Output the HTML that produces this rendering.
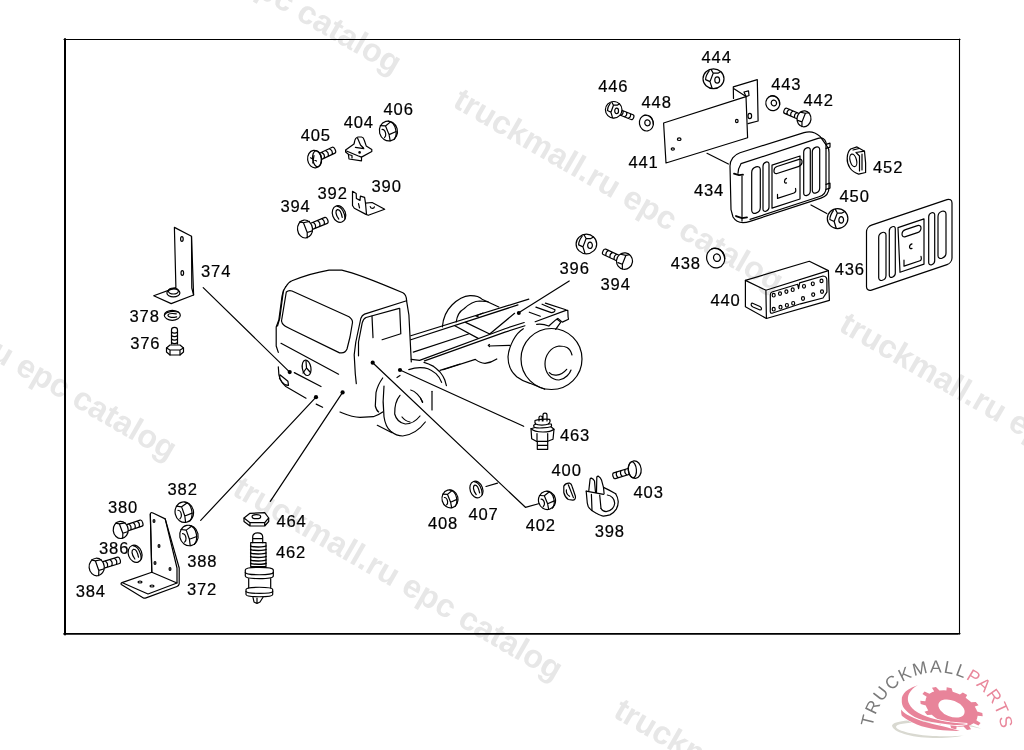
<!DOCTYPE html>
<html><head><meta charset="utf-8"><style>
html,body{margin:0;padding:0;background:#fff;width:1024px;height:750px;overflow:hidden}
svg{position:absolute;left:0;top:0;will-change:transform}
</style></head><body>
<svg width="1024" height="750" viewBox="0 0 1024 750">
<g font-family="'Liberation Sans', sans-serif" font-weight="bold" fill="#e7e7e7">
<text transform="translate(69.6,-112.1) rotate(30)" font-size="32.5">truckmall.ru epc catalog</text>
<text transform="translate(-155.1,274.1) rotate(30)" font-size="32.5">truckmall.ru epc catalog</text>
<text transform="translate(-375.8,658.3) rotate(30)" font-size="32.5">truckmall.ru epc catalog</text>
<text transform="translate(672.3,-282.2) rotate(30)" font-size="32.5">truckmall.ru epc catalog</text>
<text transform="translate(451.6,106.0) rotate(30)" font-size="32.5">truckmall.ru epc catalog</text>
<text transform="translate(230.9,494.2) rotate(30)" font-size="32.5">truckmall.ru epc catalog</text>
<text transform="translate(1058.3,-58.1) rotate(30)" font-size="32.5">truckmall.ru epc catalog</text>
<text transform="translate(837.6,330.1) rotate(30)" font-size="32.5">truckmall.ru epc catalog</text>
<text transform="translate(611.9,716.3) rotate(30)" font-size="32.5">truckmall.ru epc catalog</text>
</g>
<g fill="none" stroke="#000" stroke-width="1.2" stroke-linejoin="round" stroke-linecap="round">
<line x1="64" y1="39.5" x2="960" y2="39.5" stroke-width="1.2"/>
<line x1="65" y1="39" x2="65" y2="634.5" stroke-width="2"/>
<line x1="959.5" y1="39" x2="959.5" y2="634" stroke-width="1.1"/>
<line x1="64" y1="633.9" x2="958" y2="633.9" stroke-width="1.6"/>
<line x1="958" y1="633.6" x2="960" y2="633.6" stroke-width="1.1"/>
<g transform="translate(314.6 159.1) rotate(-25.0)"><path d="M3.9,-3.2 L21.0,-3.2 C23.2,-3.2 23.2,3.2 21.0,3.2 L3.9,3.2 M9.1,-3.2 C10.7,-1.3 10.7,1.3 9.1,3.2 M13.4,-3.2 C15.0,-1.3 15.0,1.3 13.4,3.2 M17.8,-3.2 C19.4,-1.3 19.4,1.3 17.8,3.2"/></g>
<g transform="translate(314.6 159.1) rotate(-7.5)">
<ellipse cx="0" cy="0" rx="7" ry="8.8" fill="#fff"/>
<ellipse cx="2.4" cy="0" rx="4.3" ry="8.1"/>
</g>
<path d="M310.5,157.8 L316.5,161 M314,155.5 L312.8,163" fill="none"/>
<path d="M345.6,150.1 L354,144 L354.5,142 C354.8,139.5 356,137.5 358,137 L361.5,137 C363,137.3 363.8,138.5 364.2,140 L366.2,145.9 L371.8,149.6 L371.8,151.5 L361.5,157.1 L361.5,160.8 L349,159 L348.4,154.3 L345.6,152 Z" fill="none"/>
<path d="M346.5,151 L357.8,155.7 L361.5,157.1 M355.4,147.3 L363.8,148.7 M357.5,138 L360.5,145 L363.5,148 M348.5,154.5 L352,155.5 L352,158" fill="none"/>
<circle cx="359.6" cy="152.4" r="1.3" fill="#000" stroke="none"/>
<g transform="translate(388.4 131.0) rotate(-15) scale(0.978 0.971)">
<ellipse cx="0" cy="0" rx="9.2" ry="10.3" fill="#fff" vector-effect="non-scaling-stroke"/>
<path vector-effect="non-scaling-stroke" d="M2.5,-9.9 C6.5,-8.2 7.8,-3.5 7.6,0.5 C7.4,4.5 6,8 3.5,9.8"/>
<path vector-effect="non-scaling-stroke" d="M-6.5,-7.5 L-1.5,-5.8 L4.5,-8.5 M-1.5,-5.8 L-0.3,3.8 L-0.8,10.2 M-0.3,3.8 L7.5,2.6"/>
<path vector-effect="non-scaling-stroke" d="M-5.8,-3.2 C-3.8,-2.6 -3.2,0 -3.4,2 C-3.6,3.8 -4.4,5 -5.6,5.6"/>
</g>
<g transform="translate(305.0 229.0) rotate(-22.2)"><path d="M4.1,-3.2 L22.8,-3.2 C25.0,-3.2 25.0,3.2 22.8,3.2 L4.1,3.2 M9.8,-3.2 C11.4,-1.3 11.4,1.3 9.8,3.2 M14.5,-3.2 C16.1,-1.3 16.1,1.3 14.5,3.2 M19.3,-3.2 C20.9,-1.3 20.9,1.3 19.3,3.2"/></g>
<g transform="translate(305.0 229.0) rotate(-6.7)">
<ellipse cx="0" cy="0" rx="7.5" ry="9" fill="#fff"/>
<path d="M-4.6,-7.7 L-0.8,-6.4 L5.3,-7.0 M-0.8,-6.4 L1.8,3.7 L1.2,9.0 M1.8,3.7 L7.0,2.7"/>
</g>
<g transform="translate(339.0 214.0) rotate(-20)">
<ellipse cx="0" cy="0" rx="6.5" ry="8.5" fill="#fff"/>
<path d="M0.7,-8.1 C5.2,-5.9 5.9,1.7 3.9,6.8"/>
<path d="M-1.9,4.7 C-3.6,-0.9 -2.3,-4.7 0.0,-4.7 C2.3,-4.2 2.6,0.0 1.9,4.2"/>
</g>
<path d="M352.5,191.3 L356.2,193.4 L356.4,198.5 L360.0,200.4 L360.4,196.2 L364.6,197.4 L365.5,203.2 L372.1,202.5 L384.7,209.3 L368.3,215.3 L366.0,214.4 L354.3,208.3 L352.5,205.5 Z" fill="none"/>
<path d="M365.5,203.2 L366.5,214.4 M358.5,203.7 L359.5,207.9 M370.2,206.5 C370.5,209 374,209 374.4,206.8" fill="none"/>
<path d="M174.4,227.4 L191.5,236.3 L193.6,295.0 L171.2,303.6 L153.7,295.7 L175.9,287.6 Z" fill="none"/>
<path d="M191.5,236.3 L191.8,288 L193.6,295" fill="none"/>
<ellipse cx="181.9" cy="239" rx="1.3" ry="2.3" fill="none"/>
<ellipse cx="182.3" cy="273" rx="1.3" ry="2.3" fill="none"/>
<ellipse cx="173.4" cy="292.9" rx="6.5" ry="4" fill="none"/>
<ellipse cx="173.4" cy="291" rx="5" ry="3" fill="none"/>
<g transform="translate(172.3 315.3) rotate(-90)">
<ellipse cx="0" cy="0" rx="5" ry="8" fill="#fff"/>
<path d="M0.5,-7.6 C4.0,-5.6 4.5,1.6 3.0,6.4"/>
<path d="M-1.5,4.4 C-2.8,-0.8 -1.8,-4.4 0.0,-4.4 C1.8,-4.0 2.0,0.0 1.5,4.0"/>
</g>
<path d="M171.5,344 L171.5,330 C171.5,326.5 177.5,326.5 177.5,330 L177.5,344" fill="none"/>
<path d="M171.5,332 C173,333.5 176,333.5 177.5,332" fill="none"/>
<path d="M171.5,335.5 C173,337.0 176,337.0 177.5,335.5" fill="none"/>
<path d="M171.5,339 C173,340.5 176,340.5 177.5,339" fill="none"/>
<path d="M171.5,342.5 C173,344.0 176,344.0 177.5,342.5" fill="none"/>
<path d="M166.5,348 L170,345 L180,345 L183.5,348 L183.5,352 L180,355 L170,355 L166.5,352 Z" fill="none"/>
<path d="M166.5,348 L170,350 L180,350 L183.5,348 M170,350 L170,355 M180,350 L180,355" fill="none"/>
<line x1="203.2" y1="287.6" x2="289.7" y2="372.1"/>
<path d="M285.8,286.7 C288,283 290,281.5 292,280.8 C300,277.5 315,272.5 329,270.1 L341.8,270.1 C355,273 380,283 402.9,292.8 C405,294 406.5,296 406.6,300.8" fill="none"/>
<path d="M285.8,286.7 C283.5,290 282,295 281.5,300 L278.9,319.7 L276.2,327 L276.2,346 L278.3,352.4" fill="none"/>
<path d="M278.3,366.8 L278.9,374.8 C280,380 283,384 285.8,386.5 L306,398.2" fill="none"/>
<path d="M286.3,292 C288,290.5 290,290.3 292,291 L349,316.8 C351.5,318.5 352.6,320 352.5,322.5 L350,337 L347,349 C346,351.5 344.5,352.8 341.5,352.8 L339.6,352.9 L292.7,330 C284,326 282,324.5 281.5,321 Z" fill="none"/>
<path d="M283.5,290 L279.8,318 L277.5,326" fill="none"/>
<line x1="281" y1="343.3" x2="338.6" y2="374.2"/>
<line x1="294.3" y1="372.6" x2="321" y2="386.5"/>
<line x1="316.2" y1="404.1" x2="322.6" y2="407.3"/>
<ellipse cx="306.6" cy="367.8" rx="4.3" ry="7.8" transform="rotate(-10 306.6 367.8)" fill="none"/>
<path d="M306,361 L306.5,368 L303,373 M306.5,368 L310,372" fill="none"/>
<path d="M279.9,374.8 L287.9,381.2 L288.5,385.4 C286,385.5 284,384.5 282,382 L279.5,378.5 Z" fill="none"/>
<path d="M406.6,300.8 L364.5,314.1 C362.5,315 361.5,316.5 360.8,318.5 L355.8,342 L354.2,354.8 L355.3,374 L356.3,383.6" fill="none"/>
<path d="M399.2,308.3 L366,317.5 C364.5,318.2 363,320 362.2,322.8 L358.5,342 L358.5,355.8" fill="none"/>
<path d="M372,316.2 L373,337.6" fill="none"/>
<path d="M399.7,308.3 L400.8,333.8 L382.1,339.7" fill="none"/>
<path d="M406.6,300.8 L408.9,315 L411.3,361.9" fill="none"/>
<path d="M340,412 C345,414 352,417.3 360,417.3 L373.3,416.7 C377,415.5 380,414 382.7,412" fill="none"/>
<line x1="377.3" y1="425.3" x2="392" y2="432.7"/>
<circle cx="289.7" cy="372.1" r="2.1" fill="#000" stroke="none"/>
<circle cx="316" cy="397.2" r="2.1" fill="#000" stroke="none"/>
<circle cx="342.6" cy="392.4" r="2.1" fill="#000" stroke="none"/>
<circle cx="372.7" cy="362.7" r="2.1" fill="#000" stroke="none"/>
<circle cx="400" cy="370" r="2.1" fill="#000" stroke="none"/>
<path d="M410.8,335.7 L528.8,299.1" fill="none"/>
<path d="M565.9,310.4 L567.8,310.4 L568.1,317 L568.5,319.2 L562.3,322.1 L557.9,318.4 L555.7,319.9 L549.1,325.8" fill="none"/>
<path d="M557.1,319.2 L560.8,322.1 L555.7,329.4" fill="none"/>
<path d="M410.8,339.8 L518,304.9" fill="none"/>
<path d="M413.3,352.1 L468.5,334" fill="none"/>
<path d="M411.3,359.4 L419.6,360.4 L505,328.7 L524.2,322.5 M535.2,321.7 L565.9,310.4" fill="none"/>
<path d="M424.5,360.9 L505,332.1 L524.9,325.8" fill="none"/>
<path d="M454.8,325.8 L478.2,338.4 M465.6,322.4 L489.7,334 L514.6,313.3 M483,313 L476,316 L478.5,317" fill="none"/>
<circle cx="518.8" cy="313" r="2" fill="#000" stroke="none"/>
<path d="M535.9,307.1 L551.3,312.6 C553.5,312.5 555,311 555,309.7 L542.1,304.2 M545.4,303.1 L565.9,309.7 M529.3,312.2 L540.3,316.2" fill="none"/>
<path d="M443.1,369.7 L475.3,359.4 C478,361.5 482,363.3 485,363.3 C489,363 493,361.5 496.8,359" fill="none"/>
<path d="M489.5,344.5 L488.3,345.3 L489.5,346.5 M489,346 L509.6,345.4" fill="none"/>
<path d="M440,370.4 L460,364" fill="none"/>
<path d="M442.4,326.8 C443,318 447,310 452,305 C458,299 464,296 470,295.6 C475,295.5 480,297 482,299.2 L498.8,307" fill="none"/>
<path d="M456.2,322 C457,316 460,311 464,308.8 C469,304 475,301 479.6,301 L488,301.6" fill="none"/>
<ellipse cx="551.5" cy="359" rx="30.5" ry="30.5" fill="none"/>
<path d="M523.3,328.7 C516,333 509,345 508,356.7 C508,365 511,372 516.7,376.7 C521,380 525,382 530,383.3 L544.7,389.3" fill="none"/>
<path d="M536.7,324.4 C540,324 545,324.5 548.7,326" fill="none"/>
<path d="M572,355 C570,347 565,346 559,346 C551,347 545,355 545,364 C545,373 551,380 559,380 C566,379 570,373 571,370" fill="none"/>
<path d="M549.3,372.7 C552,376 560,377 566.7,369.3" fill="none"/>
<path d="M382.7,378 C379,383 377,388 376,392.7 L375.3,406 C376,409 377,411 378.7,412" fill="none"/>
<path d="M384,386 C383,395 383,408 384,416.7 C385,424 387,428 390.7,431.3 C394,434 398,436 402.7,436 C412,435 420,429 425.3,422" fill="none"/>
<path d="M432,391.3 L432,410" fill="none"/>
<path d="M408.8,369.6 C412,368.5 416,367.6 420,367.6 C424,367.6 426,368 428,368.8 C432,370.5 434,372 436,373.6 C438.5,376 440.5,379 441.6,382.4" fill="none"/>
<path d="M424,362.4 C428,363.5 431,365 433.6,366.4 C436,368 438,370 440,372 C442,374.5 443.8,377 444.8,380 L446.4,385.6" fill="none"/>
<path d="M400,395.3 C396,400 394.5,407 394.7,414 C396,419 400,423 405.3,424 C411,424 416,421 420,416" fill="none"/>
<path d="M410.7,390 C415,391 420,396 422.7,402" fill="none"/>
<path d="M402,417 C404,419.5 407,421.5 410,422 M397,377.5 L400,375.5 M420.5,398 L422.5,402.5" fill="none"/>
<line x1="316" y1="397.2" x2="200.7" y2="520.4"/>
<line x1="342.6" y1="392.4" x2="270.3" y2="501.3"/>
<path d="M372.7,362.7 L525.4,507.3 L539.4,503.5" fill="none"/>
<line x1="400" y1="370" x2="523.7" y2="426.3"/>
<line x1="518.7" y1="312.7" x2="569.2" y2="281"/>
<line x1="486" y1="486.5" x2="497.5" y2="483.2"/>
<g transform="translate(586.4 244.0) rotate(0) scale(0.981 0.990)">
<ellipse cx="0" cy="0" rx="10.5" ry="9.9" fill="#fff" vector-effect="non-scaling-stroke"/>
<path vector-effect="non-scaling-stroke" d="M-4.3,-7.9 C-6.5,-5 -7.9,-2 -7.9,0.9 L-3.5,2.9 L-1.5,9.3 M-0.3,-5.5 L-3.5,2.9 M-2.3,-9.1 L-0.3,-5.5 L4.5,-5.5 L7.3,-7.1"/>
<ellipse vector-effect="non-scaling-stroke" cx="3.7" cy="1.3" rx="2.4" ry="3.2"/>
</g>
<g transform="translate(624.5 261.1) rotate(-155.2)"><path d="M4.4,-3.0 L22.1,-3.0 C24.3,-3.0 24.3,3.0 22.1,3.0 L4.4,3.0 M9.8,-3.0 C11.4,-1.2 11.4,1.2 9.8,3.0 M14.3,-3.0 C15.9,-1.2 15.9,1.2 14.3,3.0 M18.8,-3.0 C20.4,-1.2 20.4,1.2 18.8,3.0"/></g>
<g transform="translate(624.5 261.1) rotate(7.4) scale(-1 1)">
<ellipse cx="0" cy="0" rx="8" ry="8.2" fill="#fff"/>
<path d="M-4.2,-7.0 L-0.7,-5.9 L4.8,-6.3 M-0.7,-5.9 L1.7,3.4 L1.1,8.2 M1.7,3.4 L6.3,2.4"/>
</g>
<g transform="translate(713.5 78.7) rotate(0) scale(1.000 1.000)">
<ellipse cx="0" cy="0" rx="10.5" ry="9.9" fill="#fff" vector-effect="non-scaling-stroke"/>
<path vector-effect="non-scaling-stroke" d="M-4.3,-7.9 C-6.5,-5 -7.9,-2 -7.9,0.9 L-3.5,2.9 L-1.5,9.3 M-0.3,-5.5 L-3.5,2.9 M-2.3,-9.1 L-0.3,-5.5 L4.5,-5.5 L7.3,-7.1"/>
<ellipse vector-effect="non-scaling-stroke" cx="3.7" cy="1.3" rx="2.4" ry="3.2"/>
</g>
<g transform="translate(613.7 109.8) rotate(21.8)"><path d="M3.6,-2.6 L19.8,-2.6 C22.0,-2.6 22.0,2.6 19.8,2.6 L3.6,2.6 M8.6,-2.6 C10.2,-1.0 10.2,1.0 8.6,2.6 M12.6,-2.6 C14.2,-1.0 14.2,1.0 12.6,2.6 M16.7,-2.6 C18.3,-1.0 18.3,1.0 16.7,2.6"/></g>
<g transform="translate(613.7 109.8) rotate(6.5)">
<ellipse cx="0" cy="0" rx="6.5" ry="8" fill="#fff"/>
</g>
<g transform="translate(613.7 109.8) rotate(0) scale(0.790 0.838)">
<ellipse cx="0" cy="0" rx="10.5" ry="9.9" fill="#fff" vector-effect="non-scaling-stroke"/>
<path vector-effect="non-scaling-stroke" d="M-4.3,-7.9 C-6.5,-5 -7.9,-2 -7.9,0.9 L-3.5,2.9 L-1.5,9.3 M-0.3,-5.5 L-3.5,2.9 M-2.3,-9.1 L-0.3,-5.5 L4.5,-5.5 L7.3,-7.1"/>
<ellipse vector-effect="non-scaling-stroke" cx="3.7" cy="1.3" rx="2.4" ry="3.2"/>
</g>
<g transform="translate(646.4 123.0) rotate(-10)">
<ellipse cx="0" cy="0" rx="7" ry="8" fill="#fff"/>
<path d="M-1.1,-8.0 C5.2,-7.6 7.4,-2.4 6.6,2.4"/>
<ellipse cx="1.1" cy="0" rx="2.7" ry="3.0"/>
</g>
<path d="M663.6,123.0 L746.0,96.6 L747.6,137.7 L666.0,163.0 Z" fill="none"/>
<ellipse cx="679.2" cy="139.2" rx="1.8" ry="1.3" fill="none"/>
<ellipse cx="672.8" cy="149" rx="1.6" ry="1.2" fill="none"/>
<ellipse cx="736.8" cy="121" rx="1.3" ry="1.6" fill="none"/>
<path d="M733.5,98.5 L733.3,86.9 L757.3,79.6 L758.1,121 L748,123.6" fill="none"/>
<path d="M734,88.8 L746,96.6" fill="none"/>
<path d="M744.0,92.0 L748.5,90.8 L749.0,95.5 L746.0,96.6 Z" fill="none"/>
<ellipse cx="749.8" cy="116" rx="1.8" ry="2.6" fill="none"/>
<line x1="707" y1="153.3" x2="728.4" y2="164"/>
<g transform="translate(772.8 103.2) rotate(-10)">
<ellipse cx="0" cy="0" rx="7" ry="7.5" fill="#fff"/>
<path d="M-1.1,-7.5 C5.2,-7.1 7.4,-2.2 6.6,2.2"/>
<ellipse cx="1.1" cy="0" rx="2.7" ry="2.9"/>
</g>
<g transform="translate(804.0 118.8) rotate(-156.4)"><path d="M3.9,-2.8 L20.0,-2.8 C22.2,-2.8 22.2,2.8 20.0,2.8 L3.9,2.8 M8.8,-2.8 C10.4,-1.1 10.4,1.1 8.8,2.8 M12.9,-2.8 C14.5,-1.1 14.5,1.1 12.9,2.8 M16.9,-2.8 C18.5,-1.1 18.5,1.1 16.9,2.8"/></g>
<g transform="translate(804.0 118.8) rotate(7.1) scale(-1 1)">
<ellipse cx="0" cy="0" rx="7" ry="8" fill="#fff"/>
<path d="M-4.1,-6.8 L-0.7,-5.7 L4.7,-6.2 M-0.7,-5.7 L1.6,3.3 L1.1,8.0 M1.6,3.3 L6.2,2.4"/>
</g>
<g transform="translate(730 170) skewY(-18.2)">
<path vector-effect="non-scaling-stroke" d="M0,-4 C0,-10 4,-14 10,-14 L74,-13 C80,-13 86,-9 90,-4 L97,8 C98.5,10 99,12 99,15 L99,50 C99,55 96,58 91,58 L20,58 C12,58 6,54 3,48 L1,40 Z"/>
<path vector-effect="non-scaling-stroke" d="M11,-2.7 C9,0 8,3 8,6 M11,-2.7 L88,-2.7 C92,-2.7 95,0 96,4 L96,50 C96,54 93,56 89,56 L20,56 M12,10 L12,55"/>
<path vector-effect="non-scaling-stroke" d="M4,5 L9,8 L13,9 M6,48 L12,52 L17,53" stroke-width="1.8"/>
<rect x="21.7" y="5.4" width="8.600000000000001" height="46.300000000000004" rx="4.300000000000001" ry="4.300000000000001" vector-effect="non-scaling-stroke"/>
<rect x="33" y="3.9" width="6" height="49.2" rx="3.0" ry="3.0" vector-effect="non-scaling-stroke"/>
<path vector-effect="non-scaling-stroke" d="M42,9 L70,9 L70,52 L42,52 Z"/>
<rect x="44" y="12" width="28" height="7" rx="3" ry="3" vector-effect="non-scaling-stroke"/>
<path vector-effect="non-scaling-stroke" d="M56.5,27 C55,27 54.5,28.5 54.5,29.5 C54.5,30.5 55,31.5 56.5,31.5"/>
<path vector-effect="non-scaling-stroke" d="M47.5,40 L47.5,44 L64,44 C66,44 66,42 65.5,40"/>
<rect x="73.7" y="3.2" width="6.599999999999994" height="47.5" rx="3.299999999999997" ry="3.299999999999997" vector-effect="non-scaling-stroke"/>
<rect x="82.3" y="5.4" width="7.400000000000006" height="45.800000000000004" rx="3.700000000000003" ry="3.700000000000003" vector-effect="non-scaling-stroke"/>
<path vector-effect="non-scaling-stroke" d="M96,6 L100,6 L100,10 L96,10 M96,46 L100,46 L100,51 L96,51"/>
</g>
<path d="M850.7,149 L857,146.9 L864.5,151.2 L865.6,162.9 L865.6,172.5 L858.7,174.1 C855,173 852,171 850,168 C848,165 847,161 847.2,158 C847.3,154 848.5,151 850.7,149 Z" fill="none"/>
<ellipse cx="853.3" cy="160.3" rx="3.2" ry="6.4" transform="rotate(-15 853.3 160.3)" fill="none"/>
<path d="M853,150 L859,148.5 M856,152.5 L864.5,151.2 M856,152.5 L859.5,156 L859.5,171 M862,154 L862,170" fill="none"/>
<g transform="translate(837.6 218.6) rotate(0) scale(0.981 1.010)">
<ellipse cx="0" cy="0" rx="10.5" ry="9.9" fill="#fff" vector-effect="non-scaling-stroke"/>
<path vector-effect="non-scaling-stroke" d="M-4.3,-7.9 C-6.5,-5 -7.9,-2 -7.9,0.9 L-3.5,2.9 L-1.5,9.3 M-0.3,-5.5 L-3.5,2.9 M-2.3,-9.1 L-0.3,-5.5 L4.5,-5.5 L7.3,-7.1"/>
<ellipse vector-effect="non-scaling-stroke" cx="3.7" cy="1.3" rx="2.4" ry="3.2"/>
</g>
<line x1="811" y1="205" x2="826.8" y2="213.5"/>
<g transform="translate(715.7 258.0) rotate(-15)">
<ellipse cx="0" cy="0" rx="9" ry="10" fill="#fff"/>
<path d="M-1.3,-10.0 C6.8,-9.5 9.5,-3.0 8.5,3.0"/>
<ellipse cx="1.3" cy="0" rx="3.4" ry="3.8"/>
</g>
<path d="M745.4,280.4 L809.3,261.3 L828.4,270.6 L829.4,300.4 L766.4,318.5 L745.4,306.8 Z" fill="none"/>
<path d="M745.4,280.4 L765.9,290.2 L828.4,270.6 M765.9,290.2 L766.4,318.5" fill="none"/>
<path d="M752,303 L760,306.5 C762,307.5 762,310 760,310 L753,307 C751,306 750.5,304 752,303 Z" fill="none"/>
<path d="M772,292 L797.6,284.3 L798.6,288.7 L799.6,282.8 L823,276 C826,276 827,278 826.9,281 L826.9,292.1 L823,298 L800.5,303.8 L772,313.2 C770.5,313.5 770,312 770.3,309.7 L770.3,295 C770.3,293.5 771,292.3 772,292 Z" fill="none"/>
<ellipse cx="773.7" cy="295.2" rx="1.5" ry="1.8" fill="none"/>
<ellipse cx="780" cy="293.6" rx="1.5" ry="1.8" fill="none"/>
<ellipse cx="786.4" cy="291.6" rx="1.5" ry="1.8" fill="none"/>
<ellipse cx="792.7" cy="289.7" rx="1.5" ry="1.8" fill="none"/>
<ellipse cx="804" cy="286.3" rx="1.5" ry="1.8" fill="none"/>
<ellipse cx="812.8" cy="283.8" rx="1.5" ry="1.8" fill="none"/>
<ellipse cx="821.5" cy="280.9" rx="1.5" ry="1.8" fill="none"/>
<ellipse cx="773.7" cy="309.2" rx="1.5" ry="1.8" fill="none"/>
<ellipse cx="780.5" cy="307.2" rx="1.5" ry="1.8" fill="none"/>
<ellipse cx="786.9" cy="305.3" rx="1.5" ry="1.8" fill="none"/>
<ellipse cx="793.2" cy="303.3" rx="1.5" ry="1.8" fill="none"/>
<ellipse cx="803" cy="298.5" rx="1.5" ry="1.8" fill="none"/>
<ellipse cx="813.2" cy="294.6" rx="1.5" ry="1.8" fill="none"/>
<ellipse cx="822" cy="291.6" rx="1.5" ry="1.8" fill="none"/>
<g transform="translate(866 235) skewY(-18.7)">
<rect x="0.5" y="-8" width="85.5" height="65" rx="5" ry="5" vector-effect="non-scaling-stroke"/>
<rect x="12.7" y="3" width="7.300000000000001" height="47.8" rx="3.6500000000000004" ry="3.6500000000000004" vector-effect="non-scaling-stroke"/>
<rect x="23.3" y="0.6" width="6.0" height="50.6" rx="3.0" ry="3.0" vector-effect="non-scaling-stroke"/>
<path vector-effect="non-scaling-stroke" d="M32,3.5 L58,3.5 L58,48.8 L34,48.8 Z"/>
<rect x="36" y="8" width="19" height="7" rx="3.5" ry="3.5" vector-effect="non-scaling-stroke"/>
<path vector-effect="non-scaling-stroke" d="M46,24.5 C44.5,24.5 43.5,25.5 43.5,26.8 C43.5,28 44.5,29 46,29"/>
<path vector-effect="non-scaling-stroke" d="M38,38 L38,44 L54,44 C55.5,44 55.5,42 55,40"/>
<rect x="62.7" y="0" width="6.0" height="52" rx="3.0" ry="3.0" vector-effect="non-scaling-stroke"/>
<rect x="72" y="2" width="8" height="47" rx="4.0" ry="4.0" vector-effect="non-scaling-stroke"/>
</g>
<path d="M539,421 L539,417.5 C539,415.5 542.3,415.5 542.3,417.5 L542.3,421 M543,421 L543,415 C543,412.5 547,412.5 547,415 L547,421" fill="none"/>
<path d="M535,420.5 C537,419.5 545,418.8 549.7,419.3 C550.5,421 549.5,423 548.3,424 C546,425.3 538,425.5 535.7,424 C534.8,423 534.8,421.5 535,420.5 Z" fill="none"/>
<path d="M535.7,424 L533.7,425.3 C533.5,426.5 534,427.3 535,427.5 C537,428.3 547,428.2 551,426.7 C551.8,426 551.6,424.8 551.3,424 L548.3,424" fill="none"/>
<path d="M535,427.5 L531,428.7 L531.7,438.7 L536.3,441.3 L547.7,441.3 L553,439.3 L554,429.3 L551,426.7" fill="none"/>
<path d="M531,428.7 C533,431 538,432 543,432 C548,432 552,431 554,429.3" fill="none"/>
<path d="M537,433.5 L537,441.3 M547.7,433.5 L547.7,441.3" fill="none"/>
<path d="M537.3,441.5 L537.3,449.3 L547.7,449.3 L547.7,441.5 M537.3,445.3 L547.7,445.3" fill="none"/>
<path d="M150.3,514 C150.5,512.5 151.5,512.5 153,513 L165.2,518.9 L179.2,568 L179.2,583.9 C179,585 178.5,586 177,586.5 L146,597.9 C145,598.3 144,598.3 143,597.7 L121.3,584.5 C120.8,584 121,583 122,582.6 L151.8,572.3 Z" fill="none"/>
<path d="M150.3,514 L151.8,572.3 M165.2,518.9 L177,568 L177,583 L148,594 L123,583" fill="none"/>
<path d="M151.8,572.3 L177,583" fill="none"/>
<ellipse cx="154" cy="521" rx="0.9" ry="1.3" fill="none"/>
<ellipse cx="159" cy="546" rx="0.9" ry="1.3" fill="none"/>
<ellipse cx="155" cy="563" rx="0.9" ry="1.3" fill="none"/>
<ellipse cx="170" cy="569" rx="0.9" ry="1.3" fill="none"/>
<ellipse cx="140" cy="582" rx="2" ry="1" fill="none"/>
<ellipse cx="152" cy="586" rx="2" ry="1" fill="none"/>
<g transform="translate(184.3 512.2) rotate(-12) scale(1.000 1.000)">
<ellipse cx="0" cy="0" rx="9.2" ry="10.3" fill="#fff" vector-effect="non-scaling-stroke"/>
<path vector-effect="non-scaling-stroke" d="M2.5,-9.9 C6.5,-8.2 7.8,-3.5 7.6,0.5 C7.4,4.5 6,8 3.5,9.8"/>
<path vector-effect="non-scaling-stroke" d="M-6.5,-7.5 L-1.5,-5.8 L4.5,-8.5 M-1.5,-5.8 L-0.3,3.8 L-0.8,10.2 M-0.3,3.8 L7.5,2.6"/>
<path vector-effect="non-scaling-stroke" d="M-5.8,-3.2 C-3.8,-2.6 -3.2,0 -3.4,2 C-3.6,3.8 -4.4,5 -5.6,5.6"/>
</g>
<g transform="translate(188.9 535.5) rotate(-12) scale(1.000 1.000)">
<ellipse cx="0" cy="0" rx="9.2" ry="10.3" fill="#fff" vector-effect="non-scaling-stroke"/>
<path vector-effect="non-scaling-stroke" d="M2.5,-9.9 C6.5,-8.2 7.8,-3.5 7.6,0.5 C7.4,4.5 6,8 3.5,9.8"/>
<path vector-effect="non-scaling-stroke" d="M-6.5,-7.5 L-1.5,-5.8 L4.5,-8.5 M-1.5,-5.8 L-0.3,3.8 L-0.8,10.2 M-0.3,3.8 L7.5,2.6"/>
<path vector-effect="non-scaling-stroke" d="M-5.8,-3.2 C-3.8,-2.6 -3.2,0 -3.4,2 C-3.6,3.8 -4.4,5 -5.6,5.6"/>
</g>
<g transform="translate(120.7 529.9) rotate(-18.4)"><path d="M4.1,-3.2 L21.5,-3.2 C23.7,-3.2 23.7,3.2 21.5,3.2 L4.1,3.2 M9.4,-3.2 C11.0,-1.3 11.0,1.3 9.4,3.2 M13.8,-3.2 C15.4,-1.3 15.4,1.3 13.8,3.2 M18.2,-3.2 C19.8,-1.3 19.8,1.3 18.2,3.2"/></g>
<g transform="translate(120.7 529.9) rotate(-5.5)">
<ellipse cx="0" cy="0" rx="7.5" ry="8.6" fill="#fff"/>
<path d="M-4.4,-7.3 L-0.8,-6.2 L5.1,-6.6 M-0.8,-6.2 L1.8,3.5 L1.2,8.6 M1.8,3.5 L6.6,2.5"/>
</g>
<g transform="translate(135.1 553.8) rotate(-20)">
<ellipse cx="0" cy="0" rx="6.7" ry="8.8" fill="#fff"/>
<path d="M0.7,-8.4 C5.4,-6.2 6.0,1.8 4.0,7.0"/>
<path d="M-2.0,4.8 C-3.7,-0.9 -2.3,-4.8 0.0,-4.8 C2.3,-4.4 2.7,0.0 2.0,4.4"/>
</g>
<g transform="translate(96.7 567.0) rotate(-17.0)"><path d="M4.2,-3.3 L22.9,-3.3 C25.1,-3.3 25.1,3.3 22.9,3.3 L4.2,3.3 M9.9,-3.3 C11.5,-1.3 11.5,1.3 9.9,3.3 M14.7,-3.3 C16.3,-1.3 16.3,1.3 14.7,3.3 M19.5,-3.3 C21.1,-1.3 21.1,1.3 19.5,3.3"/></g>
<g transform="translate(96.7 567.0) rotate(-5.1)">
<ellipse cx="0" cy="0" rx="7.6" ry="8.8" fill="#fff"/>
<path d="M-4.5,-7.5 L-0.8,-6.3 L5.2,-6.8 M-0.8,-6.3 L1.8,3.6 L1.2,8.8 M1.8,3.6 L6.8,2.6"/>
</g>
<path d="M244,518 L250,513.3 L264.7,512.7 L268.7,518 L264.7,522.7 L250,522.7 Z" fill="none"/>
<path d="M244,518 L244,521.5 L250,526 L264.7,526 L268.7,521.5 L268.7,518 M250,522.7 L250,526 M264.7,522.7 L264.7,526" fill="none"/>
<ellipse cx="256.4" cy="516.7" rx="4.3" ry="2" fill="none"/>
<path d="M252.7,542.7 L252.7,537 C252.7,531.5 262.7,531.5 262.7,537 L262.7,542.7 M252.7,538.7 L262.7,538.7" fill="none"/>
<path d="M250.7,542.7 L266,542.7 L266,566.7 L250.7,566.7 Z" fill="none"/>
<path d="M250.7,546 C252,547.2 264.5,547.2 266,546" fill="none" stroke-width="1.5"/>
<path d="M250.7,549.5 C252,550.7 264.5,550.7 266,549.5" fill="none" stroke-width="1.5"/>
<path d="M250.7,553 C252,554.2 264.5,554.2 266,553" fill="none" stroke-width="1.5"/>
<path d="M250.7,556.5 C252,557.7 264.5,557.7 266,556.5" fill="none" stroke-width="1.5"/>
<path d="M250.7,560 C252,561.2 264.5,561.2 266,560" fill="none" stroke-width="1.5"/>
<path d="M250.7,563.3 C252,564.5 264.5,564.5 266,563.3" fill="none" stroke-width="1.5"/>
<path d="M245.3,570 C245.3,566.5 273.3,566.5 273.3,570 L273.3,576 C273.3,579.5 245.3,579.5 245.3,576 Z" fill="none"/>
<path d="M245.3,572.5 C246,575.5 272.5,575.5 273.3,572.5" fill="none"/>
<path d="M248.7,578.5 L248.7,588 M270.7,578.5 L270.7,588" fill="none"/>
<path d="M246,589.5 C246,586.5 272.7,586.5 272.7,589.5 L272.7,594.5 C272.7,597.5 246,597.5 246,594.5 Z" fill="none"/>
<path d="M246,591.5 C247,594 271.7,594 272.7,591.5" fill="none"/>
<path d="M253,597.3 L254,602 L257,603.5 L260,602 L263,597.3 M257,598 L257,603.5" fill="none"/>
<g transform="translate(450.0 498.9) rotate(-15) scale(0.870 0.874)">
<ellipse cx="0" cy="0" rx="9.2" ry="10.3" fill="#fff" vector-effect="non-scaling-stroke"/>
<path vector-effect="non-scaling-stroke" d="M2.5,-9.9 C6.5,-8.2 7.8,-3.5 7.6,0.5 C7.4,4.5 6,8 3.5,9.8"/>
<path vector-effect="non-scaling-stroke" d="M-6.5,-7.5 L-1.5,-5.8 L4.5,-8.5 M-1.5,-5.8 L-0.3,3.8 L-0.8,10.2 M-0.3,3.8 L7.5,2.6"/>
<path vector-effect="non-scaling-stroke" d="M-5.8,-3.2 C-3.8,-2.6 -3.2,0 -3.4,2 C-3.6,3.8 -4.4,5 -5.6,5.6"/>
</g>
<g transform="translate(476.4 489.5) rotate(-20)">
<ellipse cx="0" cy="0" rx="6.3" ry="8.5" fill="#fff"/>
<path d="M0.6,-8.1 C5.0,-5.9 5.7,1.7 3.8,6.8"/>
<path d="M-1.9,4.7 C-3.5,-0.9 -2.2,-4.7 0.0,-4.7 C2.2,-4.2 2.5,0.0 1.9,4.2"/>
</g>
<g transform="translate(547.0 500.4) rotate(-15) scale(0.924 0.893)">
<ellipse cx="0" cy="0" rx="9.2" ry="10.3" fill="#fff" vector-effect="non-scaling-stroke"/>
<path vector-effect="non-scaling-stroke" d="M2.5,-9.9 C6.5,-8.2 7.8,-3.5 7.6,0.5 C7.4,4.5 6,8 3.5,9.8"/>
<path vector-effect="non-scaling-stroke" d="M-6.5,-7.5 L-1.5,-5.8 L4.5,-8.5 M-1.5,-5.8 L-0.3,3.8 L-0.8,10.2 M-0.3,3.8 L7.5,2.6"/>
<path vector-effect="non-scaling-stroke" d="M-5.8,-3.2 C-3.8,-2.6 -3.2,0 -3.4,2 C-3.6,3.8 -4.4,5 -5.6,5.6"/>
</g>
<path d="M563.8,486.1 C565,484 567.5,483 569.6,483.2 C571,483.5 571.8,485 572.2,486.7 L575.4,496.3 C575.8,498.5 574.5,500.3 572.8,500.2 L568.3,499.5 C566,498 564.5,495.5 563.8,492.5 Z" fill="none"/>
<path d="M568.3,484.8 L573.4,497.6 M566.4,489.9 C566,492.5 567.5,495 569.6,496.3" fill="none"/>
<path d="M588.8,490.6 L590.1,479 C590.5,478 591,478 591.4,478.1 C593,478.8 594,480 594.5,481 L595.5,492.5" fill="none"/>
<path d="M596.5,492.5 L596.8,477.1 C597.2,476.4 597.8,476.1 598.4,476.2 C600,477 601,478.5 601.6,480.3 L603.5,487.4 L604.1,493.8" fill="none"/>
<path d="M586.2,491.2 L603.5,494.4 M603.5,487.4 L608.6,489.9 L615.7,493.8" fill="none"/>
<path d="M586.2,491.2 L586.9,498.9 C587,502 587.5,504.5 588.2,506.5 C590,509.5 592.5,511.5 595.8,513 C598.5,514.5 601,516 603.5,516.1 C606,516 608,515.5 609.9,514.9 C612.5,513.5 614.8,511.5 616.3,509.1 C617.7,506.5 618.3,504 618.2,501.4 C618,498.5 617,496 615.7,493.8" fill="none"/>
<path d="M607.3,495 C609.5,495.3 611.3,496.3 612.5,497.6 C614,499.3 614.7,501.3 614.7,503.3 C614.5,505.5 613.7,507.3 612.5,508.5 C610.7,510.3 608.5,511.5 606.1,511.7 C603.7,511.5 602,510.3 601,508.5" fill="none"/>
<path d="M599.7,495 L601,508.5 M591.4,494.4 L592,510.4" fill="none"/>
<g transform="translate(634.7 469.6) rotate(162.9)"><path d="M3.6,-3.0 L21.1,-3.0 C23.3,-3.0 23.3,3.0 21.1,3.0 L3.6,3.0 M8.9,-3.0 C10.5,-1.2 10.5,1.2 8.9,3.0 M13.4,-3.0 C15.0,-1.2 15.0,1.2 13.4,3.0 M17.8,-3.0 C19.4,-1.2 19.4,1.2 17.8,3.0"/></g>
<g transform="translate(634.7 469.6) rotate(-5.1) scale(-1 1)">
<ellipse cx="0" cy="0" rx="6.5" ry="8.8" fill="#fff"/>
<ellipse cx="2.3" cy="0" rx="4.0" ry="8.1"/>
</g>
</g>
<g font-family="'Liberation Sans', sans-serif" font-size="16.6" letter-spacing="0.8" fill="#000" stroke="#000" stroke-width="0.2">
<text x="300.7" y="141.2">405</text>
<text x="343.8" y="128.3">404</text>
<text x="383.6" y="114.9">406</text>
<text x="280.5" y="211.9">394</text>
<text x="317.6" y="199.4">392</text>
<text x="371.6" y="192.2">390</text>
<text x="201.1" y="276.9">374</text>
<text x="129.6" y="322.3">378</text>
<text x="130.3" y="348.9">376</text>
<text x="559.6" y="274.0">396</text>
<text x="600.6" y="290.1">394</text>
<text x="701.6" y="62.6">444</text>
<text x="598.2" y="92.3">446</text>
<text x="641.6" y="107.6">448</text>
<text x="628.4" y="167.7">441</text>
<text x="771.2" y="89.9">443</text>
<text x="803.6" y="106.2">442</text>
<text x="873.1" y="172.7">452</text>
<text x="839.6" y="201.5">450</text>
<text x="693.9" y="195.5">434</text>
<text x="670.7" y="269.3">438</text>
<text x="834.8" y="275.1">436</text>
<text x="710.5" y="305.8">440</text>
<text x="560.0" y="441.1">463</text>
<text x="167.6" y="495.0">382</text>
<text x="107.9" y="513.3">380</text>
<text x="99.1" y="553.8">386</text>
<text x="187.2" y="566.9">388</text>
<text x="75.8" y="596.7">384</text>
<text x="186.9" y="595.4">372</text>
<text x="276.4" y="527.0">464</text>
<text x="275.9" y="558.2">462</text>
<text x="551.6" y="476.0">400</text>
<text x="633.6" y="498.4">403</text>
<text x="468.4" y="519.9">407</text>
<text x="428.0" y="528.9">408</text>
<text x="525.7" y="530.6">402</text>
<text x="594.8" y="536.9">398</text>
</g>
<defs><path id="logoarc" d="M872.5,727.3 A65,65 0 0 1 1001.7,738.6"/></defs>
<g>
<path d="M892,725.5 C893,722 905,720 922,720.1 C945,720.5 970,724 981.3,728.7 C970,726 945,722.5 922,722.5 C905,722.5 896,724 896,727 C897,731 915,735 933,736 C950,736.5 960,736 965.2,735.2 C955,737.5 945,738 933,738 C910,737.5 893,732 892,725.5 Z" fill="#d9d9d1"/>
<g transform="translate(951.5 708.5) rotate(22) scale(2.75 1.62)"><path d="M10.00,0.00 L9.96,0.94 L11.79,1.62 L11.39,3.44 L9.44,3.29 L8.66,5.00 L8.15,5.79 L9.40,7.29 L8.15,8.67 L6.53,7.57 L5.00,8.66 L4.16,9.09 L4.50,11.02 L2.72,11.59 L1.87,9.82 L0.00,10.00 L-0.94,9.96 L-1.62,11.79 L-3.44,11.39 L-3.29,9.44 L-5.00,8.66 L-5.79,8.15 L-7.29,9.40 L-8.67,8.15 L-7.57,6.53 L-8.66,5.00 L-9.09,4.16 L-11.02,4.50 L-11.59,2.72 L-9.82,1.87 L-10.00,0.00 L-9.96,-0.94 L-11.79,-1.62 L-11.39,-3.44 L-9.44,-3.29 L-8.66,-5.00 L-8.15,-5.79 L-9.40,-7.29 L-8.15,-8.67 L-6.53,-7.57 L-5.00,-8.66 L-4.16,-9.09 L-4.50,-11.02 L-2.72,-11.59 L-1.87,-9.82 L-0.00,-10.00 L0.94,-9.96 L1.62,-11.79 L3.44,-11.39 L3.29,-9.44 L5.00,-8.66 L5.79,-8.15 L7.29,-9.40 L8.67,-8.15 L7.57,-6.53 L8.66,-5.00 L9.09,-4.16 L11.02,-4.50 L11.59,-2.72 L9.82,-1.87 Z M5.0,0 A5.0,5.0 0 1 0 -5.0,0 A5.0,5.0 0 1 0 5.0,0 Z" fill="#e8849a" fill-rule="evenodd"/></g>
<path d="M917.9,685.2 C912,687 907.5,690 906.1,691.1 C903,694 901.5,697 901.8,699.7 C901.5,703 902.5,706 904,708.3 C907,712 910,714.5 914.7,716.9 C920,719.5 926,721 933,722.3 C940,723.5 947,724.5 954.4,725 C959,725.3 963,724.8 967.3,723.9 C962,723.5 956,723 950.2,722.3 C943,721.2 937,719.8 930.8,718 C925,716 919,713.5 914.7,710.4 C911.5,708 909.5,705 908.3,701.9 C907.5,699 907.8,696 909.3,693.3 C911,690 914,687 917.9,685.2 Z" fill="#e8849a" stroke="#fff" stroke-width="1.6" paint-order="stroke"/>
<path d="M901.3,709.4 C901,711.5 901.2,713.5 901.8,715.8 C906,719.5 911,722 916.9,724.4 C923,726.8 930,728.5 938.3,729.8 C945,730.7 952,731 959.8,730.9 C954,729.5 949,728 943.7,726.6 C936,724.8 929,723 922.2,721.2 C917,719.5 912,717.2 907.2,714.7 C904.5,713 902.5,711.3 901.3,709.4 Z" fill="#e8849a" stroke="#fff" stroke-width="1" paint-order="stroke"/>
<text font-family="'Liberation Sans', sans-serif" font-size="17.5" letter-spacing="1"><textPath href="#logoarc" textLength="186" lengthAdjust="spacing"><tspan fill="#7a7a7a">TRUCKMALL</tspan><tspan fill="#e9879b">PARTS</tspan></textPath></text>
</g>
</svg>
</body></html>
